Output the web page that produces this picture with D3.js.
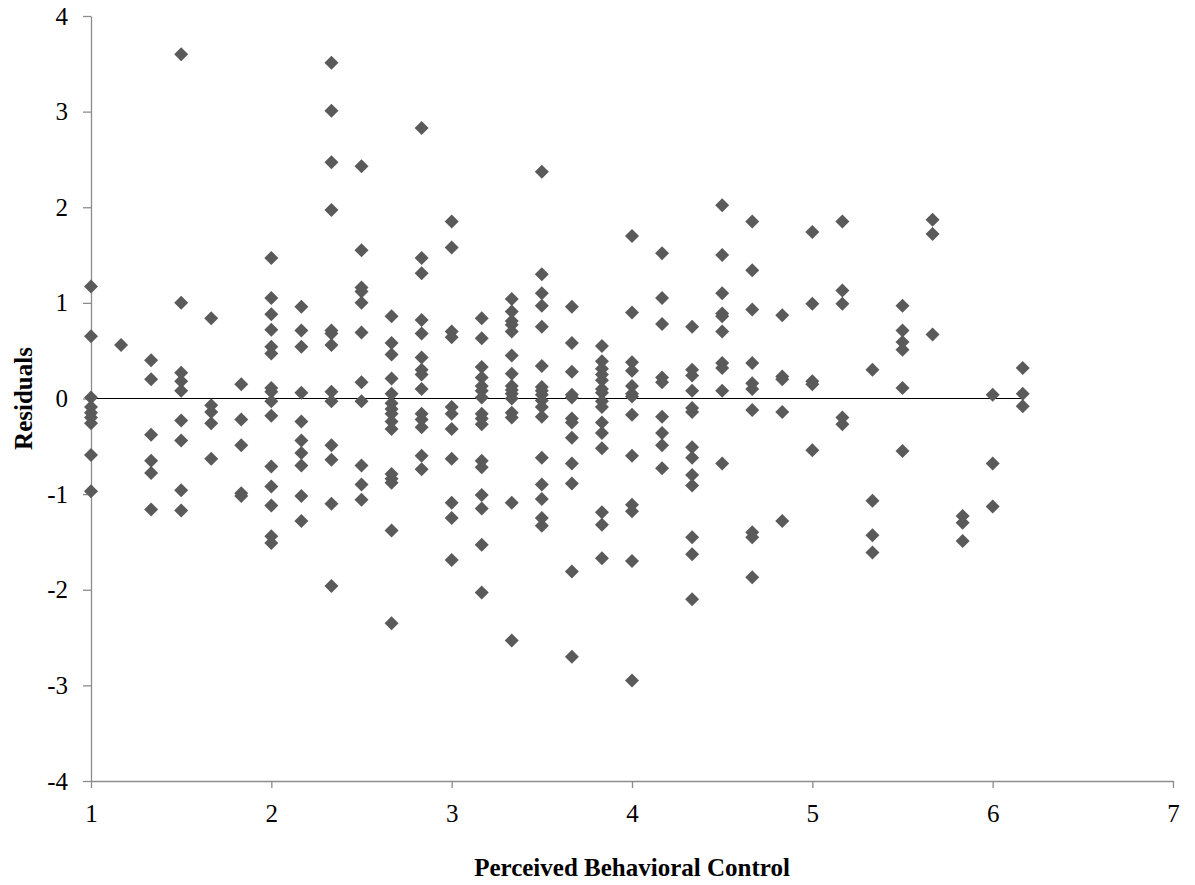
<!DOCTYPE html>
<html>
<head>
<meta charset="utf-8">
<script src="https://cdn.jsdelivr.net/npm/d3@7"></script>
<style>
  body { margin: 0; background: #fff; }
  svg { display: block; }
</style>
</head>
<body>
<svg width="1195" height="885"></svg>
<script>
// Perceived behavioral control levels (steps of 1/6)
const pbcLevels = [1, 7/6, 8/6, 9/6, 10/6, 11/6, 2, 13/6, 14/6, 15/6, 16/6, 17/6, 3,
  19/6, 20/6, 21/6, 22/6, 23/6, 4, 25/6, 26/6, 27/6, 28/6, 29/6, 5, 31/6, 32/6, 33/6, 34/6, 35/6, 6, 37/6]

// residuals observed at each level, same order as pbcLevels
const residuals = [
  [1.17, 0.65, 0.01, -0.09, -0.15, -0.2, -0.26, -0.59, -0.97],
  [0.56],
  [0.40, 0.20, -0.38, -0.65, -0.78, -1.16],
  [3.60, 1.00, 0.27, 0.18, 0.08, -0.23, -0.44, -0.96, -1.17],
  [0.84, -0.07, -0.14, -0.26, -0.63],
  [0.15, -0.22, -0.49, -0.99, -1.02],
  [1.47, 1.05, 0.88, 0.72, 0.54, 0.47, 0.11, 0.07, -0.03, -0.18, -0.71, -0.92, -1.12, -1.44, -1.51],
  [0.96, 0.71, 0.54, 0.06, -0.24, -0.44, -0.57, -0.70, -1.02, -1.28],
  [3.51, 3.01, 2.47, 1.97, 0.71, 0.68, 0.56, 0.07, -0.03, -0.49, -0.64, -1.10, -1.96],
  [2.43, 1.55, 1.16, 1.12, 1.00, 0.69, 0.17, -0.03, -0.70, -0.90, -1.06],
  [0.86, 0.58, 0.46, 0.21, 0.05, -0.05, -0.11, -0.16, -0.24, -0.32, -0.79, -0.84, -0.88, -1.38, -2.35],
  [2.83, 1.47, 1.31, 0.82, 0.68, 0.43, 0.30, 0.25, 0.10, -0.16, -0.22, -0.30, -0.60, -0.74],
  [1.85, 1.58, 0.70, 0.64, -0.09, -0.16, -0.32, -0.63, -1.09, -1.25, -1.69],
  [0.84, 0.63, 0.33, 0.22, 0.13, 0.08, 0.01, -0.16, -0.21, -0.27, -0.65, -0.72, -1.01, -1.15, -1.53, -2.03],
  [1.04, 0.91, 0.81, 0.77, 0.70, 0.45, 0.26, 0.13, 0.09, 0.05, 0.0, -0.15, -0.20, -1.09, -2.53],
  [2.37, 1.30, 1.10, 0.97, 0.75, 0.34, 0.12, 0.08, 0.04, -0.02, -0.09, -0.19, -0.62, -0.90, -1.05, -1.25, -1.33],
  [0.96, 0.58, 0.28, 0.04, 0.01, -0.21, -0.25, -0.41, -0.68, -0.89, -1.81, -2.70],
  [0.55, 0.39, 0.31, 0.25, 0.19, 0.10, 0.06, -0.03, -0.09, -0.25, -0.36, -0.52, -1.19, -1.32, -1.67],
  [1.70, 0.90, 0.38, 0.29, 0.13, 0.05, 0.02, -0.17, -0.60, -1.11, -1.18, -1.70, -2.95],
  [1.52, 1.05, 0.78, 0.22, 0.17, -0.19, -0.36, -0.49, -0.73],
  [0.75, 0.30, 0.24, 0.08, -0.10, -0.14, -0.51, -0.62, -0.80, -0.91, -1.45, -1.63, -2.10],
  [2.02, 1.50, 1.10, 0.89, 0.86, 0.70, 0.37, 0.32, 0.08, -0.68],
  [1.85, 1.34, 0.93, 0.37, 0.16, 0.10, -0.12, -1.40, -1.45, -1.87],
  [0.87, 0.23, 0.20, -0.14, -1.28],
  [1.74, 0.99, 0.18, 0.15, -0.54],
  [1.85, 1.13, 0.99, -0.20, -0.27],
  [0.30, -1.07, -1.43, -1.61],
  [0.97, 0.71, 0.59, 0.51, 0.11, -0.55],
  [1.87, 1.72, 0.67],
  [-1.23, -1.30, -1.49],
  [0.04, -0.68, -1.13],
  [0.32, 0.05, -0.08]
]

const xTicks = [1, 2, 3, 4, 5, 6, 7]
const yTicks = [-4, -3, -2, -1, 0, 1, 2, 3, 4]
const zeroLine = [[1, 0], [37/6, 0]]

const points = pbcLevels.flatMap((x, i) => residuals[i].map(y => ({ x, y })))

const svg = d3.select('svg')
const font = '"Liberation Serif", "Times New Roman", serif'
const axisColor = '#8c8c8c'
const plain = d => String(d)   // keep the ascii hyphen for negatives

const x = d3.scaleLinear().domain([1, 7]).range([91, 1173])
const y = d3.scaleLinear().domain([-4, 4]).range([781, 16])

// axes
const xAxis = svg.append('g')
    .attr('transform', `translate(0,${y(-4)})`)
    .call(d3.axisBottom(x).tickValues(xTicks).tickFormat(plain)
        .tickSize(7).tickSizeOuter(0).tickPadding(16))
const yAxis = svg.append('g')
    .attr('transform', `translate(${x(1)},0)`)
    .call(d3.axisLeft(y).tickValues(yTicks).tickFormat(plain)
        .tickSize(8).tickSizeOuter(0).tickPadding(15))

;[xAxis, yAxis].forEach(g => {
    g.select('.domain').attr('stroke', axisColor).attr('stroke-width', 1.3)
    g.selectAll('.tick line').attr('stroke', axisColor).attr('stroke-width', 1.3)
    g.selectAll('.tick text')
        .attr('font-family', font)
        .attr('font-size', 25)
        .attr('fill', '#000')
})

// zero reference line
svg.append('path')
    .attr('d', d3.line().x(d => x(d[0])).y(d => y(d[1]))(zeroLine))
    .attr('stroke', '#000')
    .attr('stroke-width', 1.2)
    .attr('fill', 'none')

// diamonds
const diamond = d3.symbol().type(d3.symbolSquare).size(98)
svg.append('g').selectAll('path').data(points)
  .enter().append('path')
    .attr('d', diamond)
    .attr('transform', d => `translate(${x(d.x)},${y(d.y)}) rotate(45)`)
    .attr('fill', '#5a5a5a')

// axis titles
svg.append('text')
    .attr('x', x(4))
    .attr('y', 876)
    .attr('text-anchor', 'middle')
    .attr('font-family', font)
    .attr('font-weight', 'bold')
    .attr('font-size', 25)
    .text('Perceived Behavioral Control')

svg.append('text')
    .attr('transform', `translate(32,${y(0)}) rotate(-90)`)
    .attr('text-anchor', 'middle')
    .attr('font-family', font)
    .attr('font-weight', 'bold')
    .attr('font-size', 25)
    .text('Residuals')
</script>
</body>
</html>
